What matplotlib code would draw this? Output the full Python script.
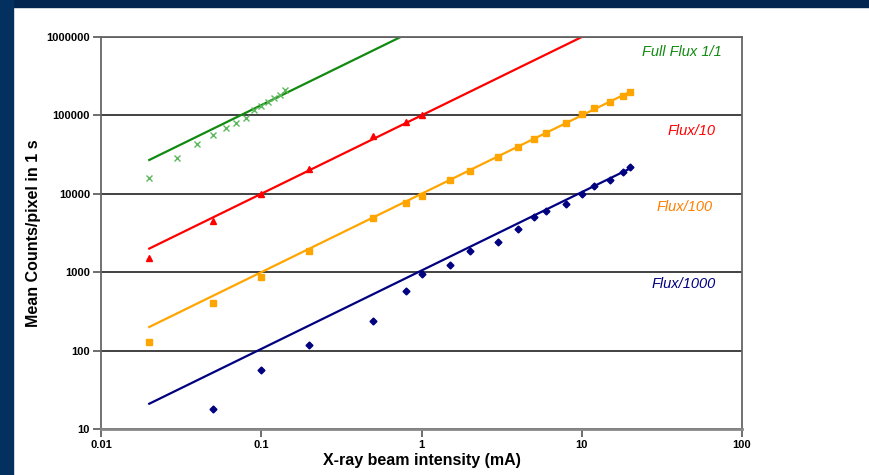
import matplotlib.pyplot as plt
import matplotlib.patches as patches
import numpy as np

plt.rcParams['font.family'] = ['Liberation Sans', 'DejaVu Sans']

# measured points (mA, mean counts/pixel in 1 s)
full_x = [0.02, 0.03, 0.04, 0.05, 0.06, 0.07, 0.08, 0.09, 0.1, 0.11, 0.12, 0.13, 0.14]
full_y = [16000, 28500, 43000, 56000, 69000, 81000, 93000, 116000, 133000, 150000, 167000, 182000, 210000]

f10_x = [0.02, 0.05, 0.1, 0.2, 0.5, 0.8, 1]
f10_y = [1500, 4500, 9800, 20500, 54000, 83000, 100000]

f100_x = [0.02, 0.05, 0.1, 0.2, 0.5, 0.8, 1, 1.5, 2, 3, 4, 5, 6, 8, 10, 12, 15, 18, 20]
f100_y = [128, 400, 880, 1850, 4900, 7700, 9400, 15000, 19500, 29500, 40000, 50000, 60000,
          80000, 105000, 125000, 150000, 175000, 200000]

f1000_x = [0.05, 0.1, 0.2, 0.5, 0.8, 1, 1.5, 2, 3, 4, 5, 6, 8, 10, 12, 15, 18, 20]
f1000_y = [18, 57, 117, 240, 580, 960, 1230, 1850, 2450, 3600, 5000, 6100, 7400, 10000,
           12500, 15000, 19000, 22000]

# linear fits y = k*x drawn over the measured range
fit_x = {
    'full': [0.02, 0.03, 0.05, 0.1, 0.2, 0.5, 0.8],
    'f10': [0.02, 0.05, 0.1, 0.2, 0.5, 0.8, 1, 2, 5, 10],
    'f100': [0.02, 0.05, 0.1, 0.2, 0.5, 1, 2, 5, 10, 20],
    'f1000': [0.02, 0.05, 0.1, 0.2, 0.5, 1, 2, 5, 10, 20],
}
fit_k = {'full': 1.35e6, 'f10': 1.0e5, 'f100': 1.0e4, 'f1000': 1.05e3}

labels = ['Full Flux 1/1', 'Flux/10', 'Flux/100', 'Flux/1000']

fig = plt.figure(figsize=(8.69, 4.75), dpi=100)
fig.patch.set_facecolor('white')
# navy slide borders
fig.add_artist(patches.Rectangle((0, 1 - 7 / 475), 1, 7 / 475, transform=fig.transFigure,
                                 color='#022550', zorder=0))
fig.add_artist(patches.Rectangle((0, 0), 13 / 869, 1, transform=fig.transFigure,
                                 color='#03305e', zorder=0))

ax = fig.add_axes([101 / 869, 1 - 429 / 475, 641 / 869, 392 / 475])
ax.set_xscale('log')
ax.set_yscale('log')
ax.set_xlim(0.01, 100)
ax.set_ylim(10, 1000000)

ax.set_xticks([0.01, 0.1, 1, 10, 100])
ax.set_xticklabels(['0.01', '0.1', '1', '10', '100'])
ax.set_yticks([10, 100, 1000, 10000, 100000, 1000000])
ax.set_yticklabels(['10', '100', '1000', '10000', '100000', '1000000'])
ax.minorticks_off()
ax.tick_params(axis='both', which='major', direction='out', length=6, width=1.2,
               color='#555555', labelsize=8, pad=2)
for lab in ax.get_xticklabels() + ax.get_yticklabels():
    lab.set_fontweight('bold')

ax.grid(axis='y', color='#333333', linewidth=1.3)
ax.set_axisbelow(True)
for s in ['left', 'right', 'bottom', 'top']:
    ax.spines[s].set_color('#666666')
    ax.spines[s].set_linewidth(1.3)
ax.spines['bottom'].set_color('#888888')
ax.spines['bottom'].set_linewidth(2)

# fitted lines
ax.plot(fit_x['full'], np.array(fit_x['full']) * fit_k['full'], color='#108a10', lw=1.6)
ax.plot(fit_x['f10'], np.array(fit_x['f10']) * fit_k['f10'], color='#ff0000', lw=1.6)
ax.plot(fit_x['f100'], np.array(fit_x['f100']) * fit_k['f100'], color='#ffa500', lw=1.6)
ax.plot(fit_x['f1000'], np.array(fit_x['f1000']) * fit_k['f1000'], color='#000080', lw=1.6)

# data points
ax.plot(full_x, full_y, 'x', color='#5cb85c', ms=4, mew=1, ls='none')
ax.plot(f10_x, f10_y, '^', color='#ff0000', ms=4.5, ls='none')
ax.plot(f100_x, f100_y, 's', color='#ffa500', ms=4.5, ls='none')
ax.plot(f1000_x, f1000_y, 'D', color='#000080', ms=3.5, ls='none')

label_y = [0.962, 0.760, 0.566, 0.370]
label_c = ['#108a10', '#ff0000', '#ff7f00', '#000080']
label_r = [0.969, 0.959, 0.955, 0.959]
for t, yy, c, xr in zip(labels, label_y, label_c, label_r):
    ax.text(xr, yy, t, transform=ax.transAxes, ha='right', va='center',
            color=c, fontsize=10.5, fontstyle='italic')

ax.set_xlabel('X-ray beam intensity (mA)', fontsize=11.5, fontweight='bold', labelpad=2)
ax.set_ylabel('Mean Counts/pixel in 1 s', fontsize=11.5, fontweight='bold', labelpad=4)

fig.savefig('out.png', dpi=100, facecolor=fig.get_facecolor())
